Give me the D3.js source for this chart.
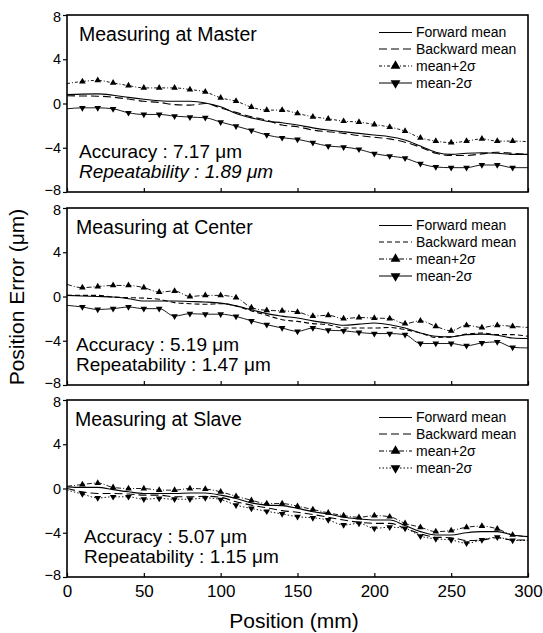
<!DOCTYPE html>
<html>
<head>
<meta charset="utf-8">
<script src="https://cdn.jsdelivr.net/npm/d3@7"></script>
<style>
  html, body { margin: 0; padding: 0; background: #fff; }
  svg { display: block; }
  text { font-family: "Liberation Sans", Arial, Helvetica, sans-serif; fill: #000; }
</style>
</head>
<body>
<svg id="chart" width="543" height="633"></svg>
<script>
// Sampling positions along the stroke (mm)
const positions = [0, 10, 20, 30, 40, 50, 60, 70, 80, 90, 100, 110, 120, 130, 140, 150,
  160, 170, 180, 190, 200, 210, 220, 230, 240, 250, 260, 270, 280, 290, 300];

const xTicks = [0, 50, 100, 150, 200, 250, 300];
const yTicks = [8, 4, 0, -4, -8];

const panelTitles = ["Measuring at Master", "Measuring at Center", "Measuring at Slave"];
const accuracy = ["7.17", "5.19", "5.07"];
const repeatability = ["1.89", "1.47", "1.15"];

const seriesNames = ["Forward mean", "Backward mean", "mean+2\u03c3", "mean-2\u03c3"];

// Measuring at Master
const masterForward = [0.80, 0.85, 0.87, 0.75, 0.55, 0.38, 0.25, 0.20, 0.20, 0.05, -0.30, -0.90, -1.30, -1.60, -1.74, -1.95,
  -2.20, -2.40, -2.55, -2.70, -2.85, -3.00, -3.30, -3.85, -4.40, -4.60, -4.50, -4.45, -4.50, -4.60, -4.60];
const masterBackward = [0.70, 0.68, 0.66, 0.57, 0.40, 0.20, 0.10, -0.10, -0.15, 0.00, -0.40, -0.80, -1.20, -1.50, -1.95, -2.10,
  -2.40, -2.55, -2.70, -2.90, -3.05, -3.20, -3.50, -3.95, -4.50, -4.70, -4.70, -4.55, -4.40, -4.50, -4.60];
const masterPlus = [1.80, 1.99, 2.09, 1.86, 1.62, 1.41, 1.41, 1.41, 1.26, 1.05, 0.51, 0.21, -0.33, -0.60, -0.60, -0.90,
  -1.20, -1.38, -1.60, -1.68, -1.90, -2.13, -2.50, -3.10, -3.40, -3.54, -3.40, -3.20, -3.40, -3.40, -3.45];
const masterMinus = [-0.48, -0.39, -0.39, -0.48, -0.84, -0.99, -0.99, -1.14, -1.23, -1.29, -1.68, -2.04, -2.43, -2.85, -3.10, -3.24,
  -3.54, -3.85, -3.94, -4.14, -4.53, -4.75, -4.95, -5.43, -5.74, -5.80, -5.80, -5.56, -5.56, -5.80, -5.80];

// Measuring at Center
const centerForward = [0.10, 0.05, 0.00, -0.05, -0.20, -0.40, -0.40, -0.40, -0.45, -0.50, -0.60, -0.85, -1.20, -1.55, -1.77, -1.95,
  -2.20, -2.40, -2.60, -2.50, -2.40, -2.55, -2.85, -3.30, -3.60, -3.65, -3.45, -3.40, -3.50, -3.75, -3.80];
const centerBackward = [0.10, 0.10, 0.10, -0.05, -0.10, -0.15, -0.25, -0.55, -0.65, -0.70, -0.65, -0.85, -1.30, -1.70, -2.10, -2.25,
  -2.45, -2.55, -2.85, -2.85, -2.85, -2.80, -3.00, -3.30, -3.70, -3.65, -3.40, -3.30, -3.45, -3.45, -3.60];
const centerPlus = [1.10, 0.80, 0.90, 1.00, 1.00, 0.80, 0.40, 0.50, 0.00, 0.10, 0.10, -0.10, -1.00, -1.25, -1.30, -1.40,
  -1.77, -1.70, -2.00, -1.90, -1.95, -2.00, -2.45, -2.20, -2.70, -3.10, -2.60, -2.80, -2.60, -2.70, -2.80];
const centerMinus = [-0.80, -0.95, -1.17, -1.10, -0.95, -1.10, -1.10, -1.77, -1.55, -1.60, -1.60, -1.80, -2.20, -2.55, -2.85, -3.15,
  -2.85, -3.05, -3.10, -3.25, -3.35, -3.35, -3.45, -4.25, -4.25, -4.25, -4.45, -4.20, -4.10, -4.60, -4.65];

// Measuring at Slave
const slaveForward = [0.15, 0.10, 0.10, -0.10, -0.30, -0.45, -0.45, -0.45, -0.40, -0.40, -0.60, -0.90, -1.30, -1.50, -1.55, -1.80,
  -2.10, -2.30, -2.60, -2.75, -2.85, -2.85, -3.35, -3.90, -4.20, -4.20, -4.00, -3.90, -3.90, -4.20, -4.35];
const slaveBackward = [0.00, -0.30, -0.45, -0.45, -0.50, -0.60, -0.60, -0.75, -0.75, -0.70, -0.80, -1.20, -1.50, -1.75, -2.00, -2.15,
  -2.35, -2.60, -2.85, -3.05, -3.15, -3.15, -3.60, -4.10, -4.40, -4.45, -4.70, -4.65, -4.45, -4.65, -4.65];
const slavePlus = [0.20, 0.36, 0.50, 0.10, 0.00, 0.00, -0.15, -0.15, 0.00, -0.05, -0.30, -0.70, -1.06, -1.36, -1.36, -1.60,
  -1.90, -2.20, -2.45, -2.60, -2.45, -2.55, -3.15, -3.50, -3.90, -3.80, -3.50, -3.40, -3.65, -4.20, -4.35];
const slaveMinus = [-0.15, -0.50, -0.85, -0.75, -0.75, -0.97, -0.90, -0.97, -0.97, -0.85, -1.00, -1.50, -1.80, -2.06, -2.30, -2.55,
  -2.65, -2.85, -3.30, -3.15, -3.60, -3.50, -3.60, -4.30, -4.55, -4.65, -4.95, -4.65, -4.40, -4.70, -4.70];

const panelSeries = [
  [masterForward, masterBackward, masterPlus, masterMinus],
  [centerForward, centerBackward, centerPlus, centerMinus],
  [slaveForward, slaveBackward, slavePlus, slaveMinus]
];

// ---- layout ----
const svg = d3.select("#chart");
const left = 67, right = 528;
const panelTop = [15, 208, 400];
const panelH = 177;

// line dash patterns per panel: forward, backward, +2σ, -2σ
const dashes = [
  [null, "8,4", "3,2,1,2", null],
  [null, "5,3", "5,2,1,2", null],
  [null, "8,4", "5,2,1,2", "1.5,2"]
];

const x = d3.scaleLinear().domain([0, 300]).range([left, right]);
const tri = d3.symbol().type(d3.symbolTriangle);

panelSeries.forEach((series, pi) => {
  const top = panelTop[pi];
  const y = d3.scaleLinear().domain([-8, 8]).range([top + panelH, top]);
  const g = svg.append("g");

  // y axis ticks (outside) and labels; the end labels are nudged inward
  // so the stacked "-8" / "8" pairs between panels stay apart
  const yAxis = d3.axisLeft(y).tickValues(yTicks).tickSize(4).tickPadding(2).tickFormat(d3.format("d"));
  const ya = g.append("g").attr("transform", `translate(${left},0)`).call(yAxis);
  ya.select(".domain").remove();
  ya.selectAll("line").attr("stroke", "#000").attr("stroke-width", 1.2);
  ya.selectAll("text").attr("font-size", 14.5).attr("font-family", "Liberation Sans, Arial, sans-serif")
    .attr("dy", d => d === 8 ? "0.46em" : (d === -8 ? "0.18em" : "0.32em"));

  // x axis ticks (inside) on the bottom edge
  const xAxis = d3.axisBottom(x).tickValues(xTicks).tickSize(-4).tickPadding(8)
    .tickFormat(pi === 2 ? d3.format("d") : () => "");
  const xa = g.append("g").attr("transform", `translate(0,${top + panelH})`).call(xAxis);
  xa.select(".domain").remove();
  xa.selectAll("line").attr("stroke", "#000").attr("stroke-width", 1.2);
  xa.selectAll("text").attr("font-size", 17).attr("font-family", "Liberation Sans, Arial, sans-serif");

  // series
  const pts = (vals) => positions.map((p, i) => [p, vals[i]]);
  const line = d3.line().x(d => x(d[0])).y(d => y(d[1])).curve(d3.curveMonotoneX);

  series.forEach((vals, si) => {
    g.append("path")
      .datum(pts(vals))
      .attr("d", line)
      .attr("fill", "none")
      .attr("stroke", "#000")
      .attr("stroke-width", si < 2 ? 1.1 : 0.9)
      .attr("stroke-dasharray", dashes[pi][si]);
    if (si >= 2) {
      const mk = pts(vals).filter(d => d[0] > 0 && d[0] < 300);
      g.selectAll(null).data(mk).enter().append("path")
        .attr("d", tri.size(19)())
        .attr("transform", d => `translate(${x(d[0])},${y(d[1])})${si === 3 ? " rotate(180)" : ""}`)
        .attr("fill", "#000");
    }
  });

  // frame
  g.append("rect")
    .attr("x", left).attr("y", top)
    .attr("width", right - left).attr("height", panelH)
    .attr("fill", "none").attr("stroke", "#000").attr("stroke-width", 1.6);

  // titles and annotations
  const tx = pi === 2 ? 75 : (pi === 1 ? 76 : 79);
  g.append("text").attr("x", tx).attr("y", top + 26).attr("font-size", 19.5).text(panelTitles[pi]);
  const ax = pi === 2 ? 84 : tx;
  g.append("text").attr("x", ax).attr("y", top + 143).attr("font-size", 19)
    .text(`Accuracy : ${accuracy[pi]} \u03bcm`);
  g.append("text").attr("x", ax).attr("y", top + 163).attr("font-size", 19)
    .attr("font-style", pi === 0 ? "italic" : "normal")
    .text(`Repeatability : ${repeatability[pi]} \u03bcm`);

  // legend
  const rows = [17.5, 34, 51, 68];
  seriesNames.forEach((name, si) => {
    const ly = top + rows[si];
    g.append("line")
      .attr("x1", 379).attr("x2", 412).attr("y1", ly).attr("y2", ly)
      .attr("stroke", "#000").attr("stroke-width", 1)
      .attr("stroke-dasharray", dashes[pi][si]);
    if (si >= 2) {
      g.append("path")
        .attr("d", tri.size(42)())
        .attr("transform", `translate(395.5,${ly})${si === 3 ? " rotate(180)" : ""}`)
        .attr("fill", "#000");
    }
    g.append("text").attr("x", 416).attr("y", ly).attr("dy", "0.35em")
      .attr("font-size", 14).text(name);
  });
});

// axis titles
svg.append("text")
  .attr("transform", `translate(24,297) rotate(-90)`)
  .attr("text-anchor", "middle").attr("font-size", 21)
  .text("Position Error (\u03bcm)");

svg.append("text")
  .attr("x", 294).attr("y", 628)
  .attr("text-anchor", "middle").attr("font-size", 21)
  .text("Position (mm)");
</script>
</body>
</html>
